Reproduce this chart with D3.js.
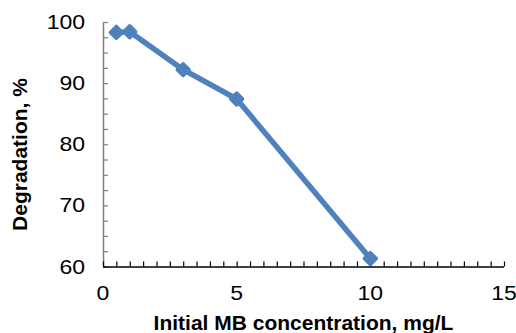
<!DOCTYPE html>
<html>
<head>
<meta charset="utf-8">
<script src="https://cdn.jsdelivr.net/npm/d3@7"></script>
<style>
  html, body { margin: 0; padding: 0; background: #fff; }
  svg { display: block; }
</style>
</head>
<body>
<svg id="chart" width="516" height="333"></svg>
<script>
// Degradation of MB versus initial concentration
const concentration = [0.5, 1, 3, 5, 10];      // mg/L
const degradation   = [98.3, 98.4, 92.2, 87.4, 61.3]; // %
const xTicks = [0, 5, 10, 15];
const yTicks = [60, 70, 80, 90, 100];
const xTitle = "Initial MB concentration, mg/L";
const yTitle = "Degradation, %";

const svg = d3.select("#chart");
const plotLeft = 103, plotRight = 504, plotTop = 22, plotBottom = 266.5;

const x = d3.scaleLinear().domain([0, 15]).range([plotLeft, plotRight]);
const y = d3.scaleLinear().domain([60, 100]).range([plotBottom, plotTop]);

const font = "'Liberation Sans', Arial, sans-serif";
const labelStretch = 1.18;   // wide digit style of the tick labels

// y axis: gray line, inward ticks every 2.5
const yAxis = svg.append("g").attr("transform", `translate(${plotLeft},0)`)
  .call(d3.axisRight(y).tickValues(d3.range(60, 100.01, 2.5)).tickSize(5).tickFormat(""));
yAxis.select(".domain").attr("stroke", "#7f7f7f").attr("stroke-width", 1.5)
  .attr("d", `M0.5,${plotTop}V${plotBottom}`);
yAxis.selectAll(".tick line").attr("stroke", "#7f7f7f").attr("stroke-width", 1.2);

// y tick labels
svg.append("g").selectAll("text").data(yTicks).join("text")
  .attr("transform", d => `translate(${plotLeft - 18},${y(d)}) scale(${labelStretch},1)`)
  .attr("dy", "0.36em")
  .attr("text-anchor", "end")
  .style("font-family", font).style("font-size", "19.5px").attr("fill", "#000")
  .text(d => d);

// x axis: black line, inward ticks every 0.5
const xAxis = svg.append("g").attr("transform", `translate(0,${plotBottom})`)
  .call(d3.axisTop(x).tickValues(d3.range(0, 15.01, 0.5)).tickSize(5).tickFormat(""));
xAxis.select(".domain").attr("stroke", "#000").attr("stroke-width", 1.5)
  .attr("d", `M${plotLeft},0.5H${plotRight}`);
xAxis.selectAll(".tick line").attr("stroke", "#000").attr("stroke-width", 1.2);

// x tick labels
svg.append("g").selectAll("text").data(xTicks).join("text")
  .attr("transform", d => `translate(${x(d)},299.5) scale(${labelStretch},1)`)
  .attr("text-anchor", "middle")
  .style("font-family", font).style("font-size", "19.5px").attr("fill", "#000")
  .text(d => d);

// axis titles
svg.append("text")
  .attr("transform", `translate(303.5,329.5) scale(1.05,1)`)
  .attr("text-anchor", "middle")
  .style("font-family", font).style("font-size", "20px").style("font-weight", "bold")
  .text(xTitle);

svg.append("text")
  .attr("transform", `translate(27,154.5) rotate(-90) scale(1.05,1)`)
  .attr("text-anchor", "middle")
  .style("font-family", font).style("font-size", "20px").style("font-weight", "bold")
  .text(yTitle);

// series
const data = concentration.map((c, i) => ({ c, d: degradation[i] }));
const color = "#4F81BD";

svg.append("path").datum(data)
  .attr("fill", "none").attr("stroke", color).attr("stroke-width", 5.5)
  .attr("stroke-linejoin", "round")
  .attr("d", d3.line().x(p => x(p.c)).y(p => y(p.d)));

svg.append("g").selectAll("path").data(data).join("path")
  .attr("transform", p => `translate(${x(p.c)},${y(p.d)}) rotate(45)`)
  .attr("d", "M-4.2,-4.2H4.2V4.2H-4.2Z")
  .attr("fill", color).attr("stroke", color).attr("stroke-width", 3.5)
  .attr("stroke-linejoin", "round");
</script>
</body>
</html>
